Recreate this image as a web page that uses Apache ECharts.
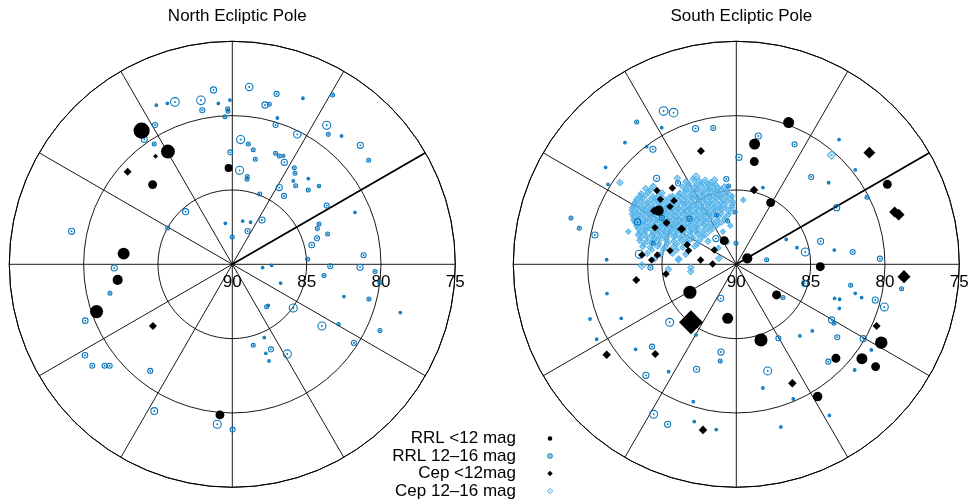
<!DOCTYPE html>
<html>
<head>
<meta charset="utf-8">
<script src="https://cdn.jsdelivr.net/npm/echarts@6/dist/echarts.min.js"></script>
<style>html,body{margin:0;padding:0;background:#fff}#c{width:969px;height:504px}</style>
</head>
<body>
<div id="c"></div>
<script>
// Positions are offsets from the pole in degrees [east, north, magnitude]
const titles = ['North Ecliptic Pole', 'South Ecliptic Pole'];
const radiusTicks = [90, 85, 80, 75];
const legendLabels = ['RRL <12 mag', 'RRL 12\u201316 mag', 'Cep <12mag', 'Cep 12\u201316 mag'];

const nepRrlBright = [[-6.10,8.99,8.3],[-4.33,7.58,9.0],[-0.25,6.48,11.0],[-5.36,5.36,10.7],[-7.31,0.72,9.7],[-7.71,-1.05,10.3],[-9.13,-3.18,9.3],[-0.83,-10.13,10.7]];
const nepCepBright = [[-5.16,7.26,12.0],[-7.04,6.23,11.0],[-5.34,-4.15,11.0]];
const nepRrlFaint = [
[-1.26,11.73,14.0],[1.14,11.93,13.3],[2.98,11.46,14.6],[4.75,11.17,15.9],[6.75,11.39,15.2],[-5.11,10.70,15.9],[-4.37,10.83,15.9],[-3.86,10.92,12.6],[-2.11,11.03,12.6],[-0.94,10.83,15.9],
[-0.16,11.05,15.9],[-2.02,10.36,14.6],[-0.31,10.47,15.2],[-0.29,10.29,15.2],[2.20,10.72,14.0],[2.49,10.76,15.2],[-0.49,9.93,15.2],[3.03,9.84,15.9],[2.91,9.37,14.6],[-5.20,9.37,14.6],
[-5.92,8.41,14.0],[-5.25,8.09,15.2],[6.35,9.35,12.9],[6.46,8.74,15.2],[7.35,8.63,15.9],[4.37,8.74,13.3],[8.61,8.00,14.0],[9.17,7.00,15.2],[0.56,8.39,12.9],[1.08,8.09,15.2],
[1.41,7.71,15.2],[-0.13,7.53,14.6],[1.55,7.06,15.2],[2.91,7.47,15.2],[3.16,7.29,15.2],[3.43,7.29,15.6],[3.50,6.86,14.0],[4.17,6.50,15.2],[4.22,6.12,15.2],[0.49,6.32,12.9],
[1.01,5.90,15.2],[0.99,5.72,15.2],[4.10,5.61,15.9],[5.11,5.76,15.9],[4.26,5.29,15.2],[5.83,5.27,15.5],[3.16,5.16,14.0],[5.11,5.00,15.2],[3.48,4.60,14.6],[1.84,4.73,15.2],
[6.35,3.95,14.6],[8.25,3.50,15.9],[-3.14,3.54,14.0],[-0.47,2.76,15.9],[0.70,2.91,15.9],[1.23,2.83,15.9],[2.00,2.98,14.0],[1.03,2.24,14.6],[0.00,1.84,15.2],[-4.35,2.44,15.2],
[-10.81,2.22,14.0],[5.83,2.71,15.2],[5.72,2.40,15.2],[6.41,2.04,15.2],[5.70,1.75,14.6],[5.34,1.30,14.3],[5.07,0.34,15.2],[8.83,0.61,14.6],[6.59,-0.13,14.6],[8.59,-0.20,14.0],
[9.60,-0.49,15.2],[9.93,-1.23,15.2],[2.04,-0.22,15.9],[2.65,-0.07,15.9],[6.17,-0.76,15.2],[-7.94,-0.25,14.0],[-8.23,-1.95,15.2],[3.25,-1.26,15.9],[7.51,-2.17,15.9],[9.19,-2.33,15.2],
[11.30,-3.25,15.9],[2.31,-2.85,15.2],[2.42,-2.76,15.9],[4.10,-2.94,12.9],[6.03,-4.15,12.9],[7.15,-4.04,15.5],[9.93,-4.46,15.2],[8.18,-5.29,14.6],[-9.89,-3.79,14.3],[1.41,-5.45,15.2],
[2.15,-4.93,15.9],[2.60,-5.72,14.6],[2.26,-5.99,15.9],[2.47,-6.50,15.9],[3.70,-6.03,12.9],[-9.91,-6.12,14.3],[-9.42,-6.82,14.6],[-8.59,-6.82,14.6],[-8.25,-6.82,14.6],[-5.52,-7.17,14.6],
[-5.25,-9.87,13.6],[-1.01,-10.76,12.9],[0.02,-11.12,14.6]];
const nepCepFaint = [];

const sepRrlBright = [[3.52,9.53,10.0],[1.23,8.09,10.0],[1.21,6.91,10.7],[2.31,4.15,10.7],[10.16,5.38,10.7],[0.74,0.40,10.3],[5.65,-0.16,10.7],[-0.81,1.59,10.7],[-5.22,3.61,10.3],[-3.12,-1.88,9.3],
[-0.58,-3.63,10.0],[2.71,-2.06,10.7],[1.66,-5.09,9.3],[9.75,-5.27,9.5],[6.70,-6.32,10.7],[8.45,-6.35,10.0],[9.37,-6.88,10.7],[5.47,-8.90,10.5]];
const sepCepBright = [[-2.38,7.62,11.0],[1.19,5.00,10.8],[8.95,7.51,9.7],[10.65,3.52,10.0],[10.92,3.34,9.7],[11.28,-0.83,9.3],[9.44,-4.15,11.0],[3.77,-8.00,10.8],[-2.24,-11.14,10.8],[-3.05,-3.90,5.7],
[-6.73,-1.05,11.0],[-8.72,-6.08,10.8],[-5.45,-6.03,11.0],[-4.73,-0.65,11.2],[-5.34,4.96,11.2],[-4.30,5.13,11.2],[-5.11,4.37,11.2],[-4.19,4.28,11.2],[-4.46,3.88,11.2],[-5.54,3.61,11.0],
[-4.69,2.80,11.0],[-5.47,2.47,11.2],[-3.68,2.38,10.7],[-3.30,1.32,11.2],[-3.21,0.92,11.2],[-4.46,0.92,11.2],[-6.35,0.63,11.2],[-5.31,0.63,11.2],[-5.70,0.29,11.3],[-2.40,0.29,11.2],
[-1.59,0.02,11.2],[-1.48,0.96,11.2]];
const sepRrlFaint = [
[-4.89,10.31,12.6],[-4.22,10.20,12.6],[-6.70,9.57,15.2],[-5.02,9.19,15.9],[-2.74,9.13,14.0],[-1.55,9.17,14.6],[-7.49,8.18,15.9],[-6.03,7.91,15.9],[-5.61,7.74,14.0],[1.48,8.63,14.0],
[3.92,8.07,14.6],[0.18,7.20,14.0],[6.91,8.39,15.9],[5.04,5.87,14.6],[6.21,5.49,15.9],[8.00,6.35,15.9],[-8.79,6.52,15.9],[-8.63,5.38,15.9],[-5.36,5.78,14.0],[-3.92,5.45,14.6],
[-0.67,5.74,14.6],[-0.52,5.27,15.2],[1.79,5.16,15.9],[8.79,4.51,15.2],[6.75,3.81,14.0],[-11.12,3.12,15.2],[-10.56,2.42,15.2],[-9.51,1.97,14.0],[5.67,1.55,14.0],[3.36,1.68,15.9],
[4.08,1.12,15.9],[4.64,0.83,13.0],[6.59,0.96,15.9],[7.83,0.83,14.6],[9.66,0.38,14.6],[2.04,0.31,15.2],[-8.72,0.31,15.9],[-6.52,0.67,12.9],[-5.78,-0.22,14.6],[4.60,-1.28,14.0],
[7.69,-1.41,15.2],[8.00,-1.95,15.9],[8.43,-2.24,15.9],[6.61,-2.29,15.9],[6.95,-2.35,15.9],[6.93,-2.96,15.9],[9.35,-2.40,14.0],[9.96,-2.87,13.0],[11.12,-1.64,15.2],[-8.70,-1.97,15.9],
[3.14,-2.24,15.2],[-1.05,-2.29,14.0],[-9.84,-3.68,15.9],[-7.74,-3.63,15.9],[-4.48,-3.90,13.0],[6.41,-3.74,14.0],[6.57,-3.97,15.2],[-2.71,-4.75,15.9],[-9.39,-5.04,15.9],[2.83,-4.98,14.6],
[4.28,-4.82,15.9],[5.11,-4.48,15.9],[6.79,-4.91,14.6],[8.54,-5.00,14.0],[9.08,-5.76,15.9],[-5.67,-5.54,14.6],[-6.77,-5.72,15.9],[-1.03,-5.90,14.0],[-1.08,-6.50,15.2],[6.19,-6.55,14.6],
[7.96,-7.11,15.9],[-6.08,-7.47,14.0],[-4.55,-7.22,15.9],[-2.67,-7.06,14.0],[2.11,-7.17,13.0],[1.79,-8.32,15.9],[3.83,-9.06,15.9],[-2.89,-9.24,15.9],[-5.56,-10.09,13.0],[-4.62,-10.76,14.0],
[-2.83,-10.58,15.9],[-1.35,-11.12,15.9],[6.26,-10.16,15.9],[3.00,-10.94,15.9],
[-6.64,2.85,14.0],[-5.00,3.12,14.6],[-3.16,3.07,14.6],[-5.58,1.41,15.2],[-1.37,1.73,14.0],[-1.32,3.32,15.2],[-0.58,2.91,15.2],[-0.09,3.52,15.2],[-0.02,1.41,15.2]];
const sepCepFaint = [
[6.41,7.35,13.3],[-7.83,5.49,14.6],[-6.35,-0.09,14.0],[-3.07,-0.49,14.6],[-3.05,-0.22,14.6],[-3.86,0.36,14.6],[-2.71,5.90,14.0],[-3.97,5.78,14.6],[-1.46,5.67,14.6],[0.47,4.33,15.2],
[-1.17,0.40,14.6],[-4.57,-0.34,14.6],[-7.26,2.20,15.2],
[-3.4,5.55,14.8],[-2.9,5.72,14.8],[-2.5,5.6,14.8],[-2.1,5.66,14.8],[-1.7,5.5,14.8],
[-6.1,5.1,14.8],[-5.6,5.25,14.8],[-3.6,5.2,14.8],[-3.2,5.28,14.8],[-2.8,5.15,14.8],[-2.4,5.3,14.8],[-2.0,5.18,14.8],[-1.6,5.25,14.8],[-1.2,5.12,14.8],[-0.8,5.22,14.8],
[-6.4,4.75,14.8],[-5.9,4.85,14.8],[-5.0,4.8,14.8],[-3.8,4.78,14.8],[-3.4,4.88,14.8],[-3.0,4.72,14.8],[-2.6,4.84,14.8],[-2.2,4.76,14.8],[-1.8,4.9,14.8],[-1.4,4.8,14.8],[-1.0,4.7,14.8],[-0.6,4.82,14.8],
[-6.7,4.38,14.8],[-6.3,4.45,14.8],[-5.8,4.35,14.8],[-5.4,4.42,14.8],[-4.9,4.4,14.8],[-4.5,4.5,14.8],[-4.1,4.36,14.8],[-3.7,4.44,14.8],[-3.3,4.4,14.8],[-2.9,4.48,14.8],[-2.5,4.34,14.8],[-2.1,4.42,14.8],[-1.7,4.38,14.8],[-1.3,4.46,14.8],[-0.9,4.36,14.8],[-0.4,4.42,14.8],
[-6.9,4.02,14.8],[-6.5,3.95,14.8],[-6.1,4.05,14.8],[-5.7,3.98,14.8],[-5.2,4.06,14.8],[-4.8,3.96,14.8],[-4.4,4.04,14.8],[-4.0,3.98,14.8],[-3.6,4.08,14.8],[-3.2,3.96,14.8],[-2.8,4.02,14.8],[-2.4,3.95,14.8],[-2.0,4.06,14.8],[-1.6,4.0,14.8],[-1.2,3.94,14.8],[-0.8,4.04,14.8],[-0.3,3.98,14.8],
[-7.0,3.62,14.8],[-6.6,3.56,14.8],[-6.2,3.64,14.8],[-5.8,3.58,14.8],[-5.4,3.66,14.8],[-5.0,3.55,14.8],[-4.6,3.62,14.8],[-4.2,3.58,14.8],[-3.8,3.65,14.8],[-3.4,3.56,14.8],[-3.0,3.62,14.8],[-2.6,3.58,14.8],[-2.2,3.64,14.8],[-1.8,3.55,14.8],[-1.4,3.6,14.8],[-1.0,3.66,14.8],[-0.5,3.58,14.8],
[-6.9,3.18,14.8],[-6.5,3.24,14.8],[-6.1,3.16,14.8],[-5.7,3.22,14.8],[-5.3,3.15,14.8],[-4.9,3.25,14.8],[-4.5,3.18,14.8],[-4.1,3.22,14.8],[-3.7,3.14,14.8],[-3.3,3.24,14.8],[-2.9,3.2,14.8],[-2.5,3.15,14.8],[-2.1,3.23,14.8],[-1.7,3.17,14.8],[-1.2,3.22,14.8],[-0.7,3.16,14.8],
[-6.8,2.82,14.8],[-6.4,2.76,14.8],[-6.0,2.84,14.8],[-5.6,2.78,14.8],[-5.2,2.85,14.8],[-4.8,2.75,14.8],[-4.4,2.82,14.8],[-4.0,2.78,14.8],[-3.6,2.86,14.8],[-3.2,2.76,14.8],[-2.8,2.83,14.8],[-2.4,2.77,14.8],[-2.0,2.84,14.8],[-1.5,2.78,14.8],[-1.0,2.82,14.8],
[-6.6,2.42,14.8],[-6.2,2.36,14.8],[-5.8,2.44,14.8],[-5.4,2.38,14.8],[-5.0,2.45,14.8],[-4.6,2.36,14.8],[-4.2,2.42,14.8],[-3.8,2.38,14.8],[-3.4,2.44,14.8],[-3.0,2.36,14.8],[-2.6,2.42,14.8],[-2.1,2.38,14.8],[-1.6,2.43,14.8],
[-6.6,1.98,14.8],[-6.2,2.04,14.8],[-5.7,1.96,14.8],[-5.3,2.03,14.8],[-4.9,1.97,14.8],[-4.5,2.05,14.8],[-4.1,1.95,14.8],[-3.6,2.02,14.8],[-3.1,1.98,14.8],[-2.6,2.04,14.8],[-2.1,1.96,14.8],
[-6.5,1.62,14.8],[-6.0,1.56,14.8],[-5.6,1.64,14.8],[-5.2,1.58,14.8],[-4.7,1.63,14.8],[-4.2,1.55,14.8],[-3.7,1.62,14.8],[-3.2,1.57,14.8],[-2.5,1.6,14.8],[-1.9,1.55,14.8],
[-6.3,1.2,14.8],[-5.8,1.14,14.8],[-5.3,1.22,14.8],[-4.8,1.16,14.8],[-4.2,1.2,14.8],[-3.6,1.15,14.8],[-2.8,1.22,14.8],
[-6.0,0.72,14.8],[-5.1,0.66,14.8],[-4.3,0.74,14.8],[-3.4,0.68,14.8],[-5.5,0.36,14.8],[-3.9,0.3,14.8],
[-0.6,1.5,15.2],[-0.9,2.2,15.2],[-0.4,2.6,15.2],[-1.2,1.1,15.2],
[-3.2,5.42,15.0],[-2.7,5.38,15.0],[-2.3,5.46,15.0],[-1.9,5.4,15.0],[-1.4,5.36,15.0],
[-5.8,4.98,15.0],[-3.4,5.02,15.0],[-3.0,4.96,15.0],[-2.6,5.04,15.0],[-2.2,4.98,15.0],[-1.8,5.05,15.0],[-1.4,4.97,15.0],[-1.0,5.02,15.0],[-0.6,4.96,15.0],
[-6.5,4.58,15.0],[-6.1,4.64,15.0],[-5.6,4.56,15.0],[-5.2,4.62,15.0],[-4.3,4.58,15.0],[-3.9,4.64,15.0],[-3.5,4.57,15.0],[-3.1,4.62,15.0],[-2.7,4.56,15.0],[-2.3,4.63,15.0],[-1.9,4.58,15.0],[-1.5,4.64,15.0],[-1.1,4.56,15.0],[-0.7,4.62,15.0],[-0.3,4.58,15.0],
[-6.8,4.18,15.0],[-6.4,4.24,15.0],[-6.0,4.16,15.0],[-5.5,4.22,15.0],[-5.1,4.17,15.0],[-4.6,4.24,15.0],[-4.2,4.18,15.0],[-3.8,4.22,15.0],[-3.4,4.16,15.0],[-3.0,4.23,15.0],[-2.6,4.18,15.0],[-2.2,4.24,15.0],[-1.8,4.16,15.0],[-1.4,4.22,15.0],[-1.0,4.18,15.0],[-0.6,4.24,15.0],[-0.2,4.17,15.0],
[-7.0,3.78,15.0],[-6.7,3.84,15.0],[-6.3,3.76,15.0],[-5.9,3.82,15.0],[-5.5,3.77,15.0],[-5.1,3.84,15.0],[-4.7,3.78,15.0],[-4.3,3.82,15.0],[-3.9,3.76,15.0],[-3.5,3.83,15.0],[-3.1,3.78,15.0],[-2.7,3.84,15.0],[-2.3,3.77,15.0],[-1.9,3.82,15.0],[-1.5,3.76,15.0],[-1.1,3.83,15.0],[-0.7,3.78,15.0],[-0.3,3.82,15.0],
[-7.0,3.38,15.0],[-6.7,3.44,15.0],[-6.3,3.36,15.0],[-5.9,3.42,15.0],[-5.5,3.37,15.0],[-5.1,3.44,15.0],[-4.7,3.38,15.0],[-4.3,3.42,15.0],[-3.9,3.36,15.0],[-3.5,3.43,15.0],[-3.1,3.38,15.0],[-2.7,3.44,15.0],[-2.3,3.37,15.0],[-1.9,3.42,15.0],[-1.5,3.36,15.0],[-1.0,3.43,15.0],[-0.5,3.38,15.0],
[-6.9,2.98,15.0],[-6.6,3.04,15.0],[-6.2,2.96,15.0],[-5.8,3.02,15.0],[-5.4,2.97,15.0],[-5.0,3.04,15.0],[-4.6,2.98,15.0],[-4.2,3.02,15.0],[-3.8,2.96,15.0],[-3.4,3.03,15.0],[-3.0,2.98,15.0],[-2.6,3.04,15.0],[-2.2,2.97,15.0],[-1.8,3.02,15.0],[-1.3,2.96,15.0],[-0.8,3.03,15.0],
[-6.7,2.58,15.0],[-6.3,2.64,15.0],[-5.9,2.56,15.0],[-5.5,2.62,15.0],[-5.1,2.57,15.0],[-4.7,2.64,15.0],[-4.3,2.58,15.0],[-3.9,2.62,15.0],[-3.5,2.56,15.0],[-3.1,2.63,15.0],[-2.7,2.58,15.0],[-2.2,2.64,15.0],[-1.8,2.57,15.0],[-1.3,2.62,15.0],
[-6.5,2.18,15.0],[-6.1,2.24,15.0],[-5.6,2.16,15.0],[-5.2,2.22,15.0],[-4.8,2.17,15.0],[-4.4,2.24,15.0],[-4.0,2.18,15.0],[-3.5,2.22,15.0],[-3.1,2.16,15.0],[-2.7,2.23,15.0],[-2.3,2.18,15.0],[-1.8,2.22,15.0],
[-6.4,1.78,15.0],[-6.0,1.84,15.0],[-5.5,1.76,15.0],[-5.1,1.82,15.0],[-4.7,1.77,15.0],[-4.2,1.84,15.0],[-3.8,1.78,15.0],[-3.4,1.82,15.0],[-2.9,1.76,15.0],[-2.3,1.83,15.0],
[-6.2,1.38,15.0],[-5.7,1.44,15.0],[-5.2,1.36,15.0],[-4.6,1.42,15.0],[-4.0,1.37,15.0],[-3.4,1.43,15.0],[-2.6,1.38,15.0],
[-5.7,0.98,15.0],[-4.9,1.02,15.0],[-4.0,0.96,15.0]];

const BLACK = '#000000', BLUE = '#0a77bd', LIGHT = '#56b4e9';
const FONT = '"Liberation Sans", Arial, sans-serif';

function toPolar(p) {
  const r = 90 - Math.hypot(p[0], p[1]);
  let a = Math.atan2(p[1], p[0]) * 180 / Math.PI;
  if (a < 0) a += 360;
  return [r, a, p[2]];
}
const brightSize = v => 5 + (12 - v[2]) * 3;
const faintSize = v => 2.5 + (16 - v[2]) * 1.8;

function sc(pi, symbol, data, size, itemStyle) {
  return {type:'scatter', coordinateSystem:'polar', polarIndex:pi, symbol, data, symbolSize:size,
    itemStyle:Object.assign({opacity:1}, itemStyle), silent:true, emphasis:{disabled:true}};
}
function poleSeries(pi, rrlB, rrlF, cepB, cepF) {
  const cf = cepF.map(toPolar), rf = rrlF.map(toPolar);
  return [
    sc(pi, 'diamond', cf, v => faintSize(v) + 1.2, {color:'rgba(86,180,233,0.3)', borderColor:LIGHT, borderWidth:1.1}),
    sc(pi, 'circle', cf, 2.2, {color:LIGHT}),
    sc(pi, 'circle', rf, faintSize, {color:'rgba(0,0,0,0)', borderColor:BLUE, borderWidth:1.1}),
    sc(pi, 'circle', rf, 1.9, {color:BLUE}),
    sc(pi, 'diamond', cepB.map(toPolar), brightSize, {color:BLACK}),
    sc(pi, 'circle', rrlB.map(toPolar), brightSize, {color:BLACK}),
    {type:'line', coordinateSystem:'polar', polarIndex:pi, data:[[90,30],[75,30]], symbol:'none', lineStyle:{color:BLACK, width:1.7}, silent:true, z:1}
  ];
}

const centers = [[232.3, 264.3], [736.3, 264.3]];
const angleAxes = [0,1].map(i => ({polarIndex:i, type:'value', min:0, max:360, interval:30, startAngle:0, clockwise:false,
  axisLine:{show:true, lineStyle:{color:BLACK, width:1}}, axisTick:{show:false}, axisLabel:{show:false},
  splitLine:{show:true, lineStyle:{color:BLACK, width:0.9}}}));
const radiusAxes = [0,1].map(i => ({polarIndex:i, type:'value', min:radiusTicks[radiusTicks.length-1], max:radiusTicks[0], interval:5, inverse:true,
  axisLine:{show:false}, axisTick:{show:false},
  axisLabel:{show:true, color:BLACK, fontSize:17, fontFamily:FONT, margin:-18, verticalAlign:'middle', align:'center'},
  splitLine:{show:true, lineStyle:{color:BLACK, width:0.9}}}));

const legendY = [438.5, 456, 473.5, 491];
const gx = 550;
const graphics = [];
legendLabels.forEach((t, i) => {
  graphics.push({type:'text', x:516, y:legendY[i], style:{text:t, align:'right', verticalAlign:'middle', textAlign:'right', textVerticalAlign:'middle', font:'17px ' + FONT, fill:BLACK}, silent:true});
});
graphics.push({type:'circle', shape:{cx:gx, cy:legendY[0], r:2.3}, style:{fill:BLACK}, silent:true});
graphics.push({type:'circle', shape:{cx:gx, cy:legendY[1], r:2.2}, style:{fill:'none', stroke:BLUE, lineWidth:1.1}, silent:true});
graphics.push({type:'circle', shape:{cx:gx, cy:legendY[1], r:0.8}, style:{fill:BLUE}, silent:true});
graphics.push({type:'polygon', shape:{points:[[gx,legendY[2]-2.7],[gx+2.7,legendY[2]],[gx,legendY[2]+2.7],[gx-2.7,legendY[2]]]}, style:{fill:BLACK}, silent:true});
graphics.push({type:'polygon', shape:{points:[[gx,legendY[3]-2.8],[gx+2.8,legendY[3]],[gx,legendY[3]+2.8],[gx-2.8,legendY[3]]]}, style:{fill:'none', stroke:LIGHT, lineWidth:1}, silent:true});
graphics.push({type:'circle', shape:{cx:gx, cy:legendY[3], r:0.8}, style:{fill:LIGHT}, silent:true});

const chart = echarts.init(document.getElementById('c'), null, {renderer:'canvas'});
chart.setOption({
  animation:false,
  backgroundColor:'#ffffff',
  title: titles.map((t, i) => ({text:t, left:centers[i][0], top:3, textAlign:'center',
    textStyle:{fontSize:17, fontWeight:'normal', color:BLACK, fontFamily:FONT}})),
  polar: centers.map(c => ({center:c, radius:223})),
  angleAxis: angleAxes,
  radiusAxis: radiusAxes,
  series: [].concat(poleSeries(0, nepRrlBright, nepRrlFaint, nepCepBright, nepCepFaint),
                    poleSeries(1, sepRrlBright, sepRrlFaint, sepCepBright, sepCepFaint)),
  graphic: graphics
});
</script>
</body>
</html>
